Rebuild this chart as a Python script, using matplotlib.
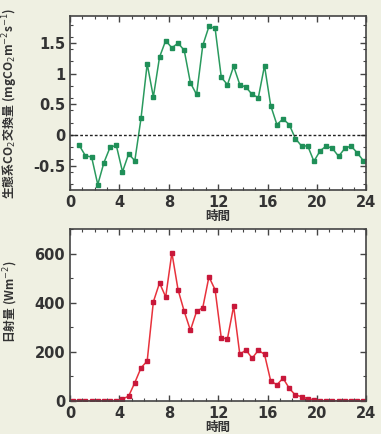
import matplotlib.pyplot as plt
from matplotlib.ticker import MultipleLocator

plt.rcParams['font.family'] = ['Noto Sans CJK JP', 'DejaVu Sans']
plt.rcParams['mathtext.fontset'] = 'dejavusans'

# half-hourly CO2 exchange, 0:45 .. 23:45
co2_hours = [0.75 + 0.5 * i for i in range(47)]
co2_flux = [-0.17, -0.34, -0.36, -0.81, -0.45, -0.20, -0.17, -0.60, -0.31, -0.42,
            0.27, 1.16, 0.62, 1.27, 1.54, 1.42, 1.50, 1.38, 0.85, 0.66,
            1.46, 1.77, 1.74, 0.94, 0.82, 1.12, 0.82, 0.78, 0.66, 0.61,
            1.13, 0.48, 0.17, 0.26, 0.17, -0.06, -0.18, -0.18, -0.43, -0.26,
            -0.18, -0.22, -0.35, -0.22, -0.18, -0.29, -0.42]

# half-hourly solar radiation, 0:15 .. 23:45
rad_hours = [0.25 + 0.5 * i for i in range(48)]
radiation = [0, 0, 0, 1, 0, 0, 0, 0, 8, 20,
             75, 135, 163, 404, 481, 424, 604, 453, 365, 288,
             365, 380, 506, 453, 256, 254, 386, 190, 208, 174,
             207, 190, 82, 66, 93, 52, 24, 18, 10, 4,
             1, 0, 0, 0, 1, 0, 0, 0]

xticks = [0, 4, 8, 12, 16, 20, 24]

bg = '#eff0e2'
fig = plt.figure(figsize=(3.81, 4.34), dpi=100, facecolor=bg)
ax1 = fig.add_axes([0.1837, 0.562, 0.778, 0.401])
ax2 = fig.add_axes([0.1837, 0.076, 0.778, 0.396])


def style(ax):
    ax.set_facecolor('white')
    for s in ax.spines.values():
        s.set_color('#444444')
        s.set_linewidth(1.2)
    ax.tick_params(which='both', direction='in', top=True, right=True,
                   colors='#444444', labelcolor='#333333', labelsize=10.5)
    ax.tick_params(which='major', length=4, width=1)
    ax.tick_params(which='minor', length=2.5, width=0.8)
    ax.set_xlim(0, 24)
    ax.set_xticks(xticks)
    ax.xaxis.set_minor_locator(MultipleLocator(1))
    for lab in ax.get_xticklabels() + ax.get_yticklabels():
        lab.set_fontweight('bold')
        lab.set_family('DejaVu Sans')
    ax.xaxis.labelpad = 0
    ax.set_xlabel('時間', fontsize=9, fontweight='bold', color='#333333')


ax1.plot(co2_hours, co2_flux, color='#2a9a5e', lw=1.1, marker='s', ms=3,
         mfc='#1f8f58', mec='#1f8f58')
ax1.axhline(0, color='#222222', lw=1, ls=(0, (2, 1.5)))
ax1.set_ylim(-0.9, 1.94)
ax1.set_yticks([-0.5, 0, 0.5, 1, 1.5])
ax1.set_yticklabels(['-0.5', '0', '0.5', '1', '1.5'])
ax1.yaxis.set_minor_locator(MultipleLocator(0.2))
style(ax1)
ax1.set_ylabel('生態系CO$_2$交換量 (mgCO$_2$m$^{-2}$s$^{-1}$)', fontsize=8.6,
               fontweight='bold', color='#333333')
ax1.yaxis.set_label_coords(-0.17, 0.5)

ax2.plot(rad_hours, radiation, color='#e8323c', lw=1.1, marker='s', ms=3,
         mfc='#c8183a', mec='#c8183a')
ax2.set_ylim(0, 700)
ax2.set_yticks([0, 200, 400, 600])
ax2.yaxis.set_minor_locator(MultipleLocator(100))
style(ax2)
ax2.set_ylabel('日射量 (Wm$^{-2}$)', fontsize=8.5, fontweight='bold',
               color='#333333')
ax2.yaxis.set_label_coords(-0.17, 0.58)

fig.savefig('out.png', dpi=100, facecolor=bg)
